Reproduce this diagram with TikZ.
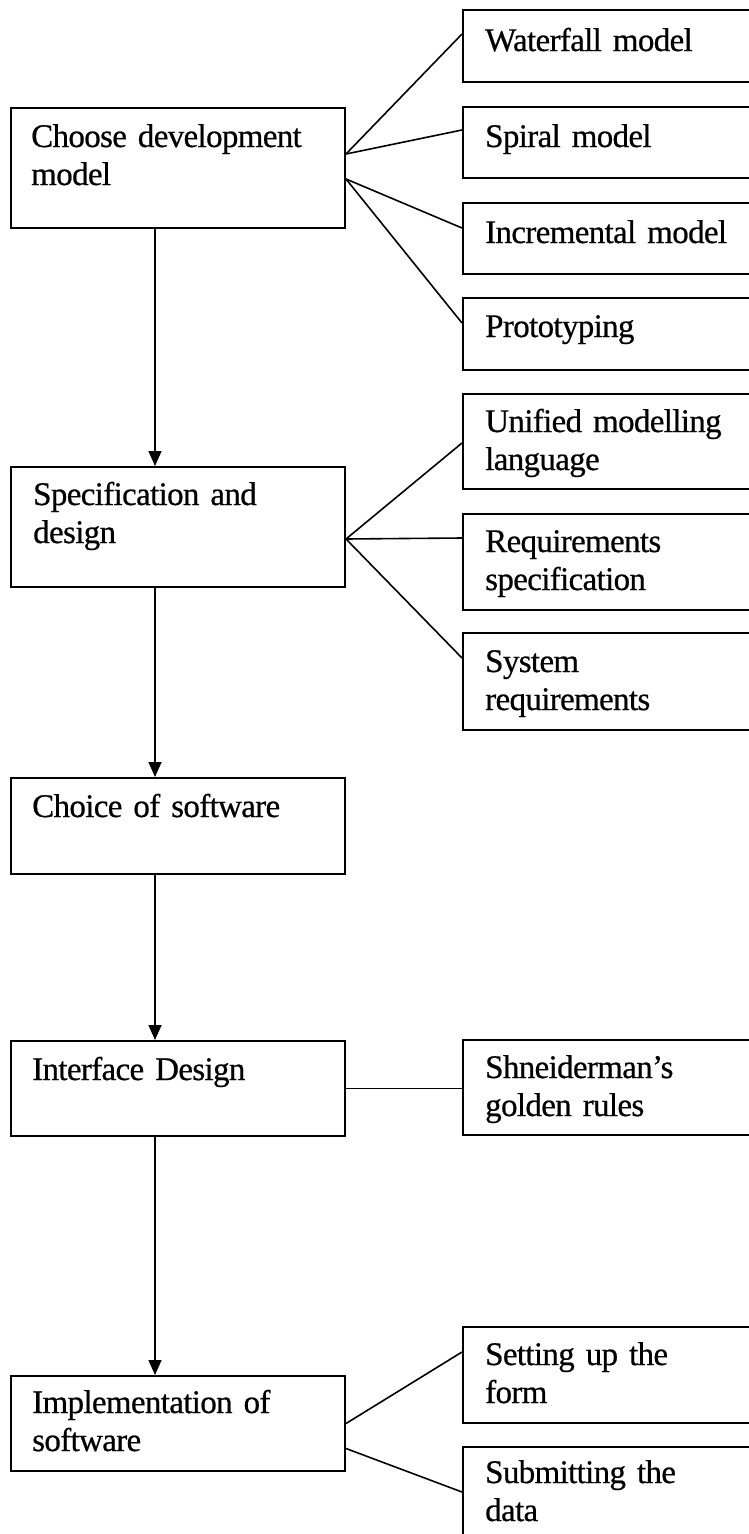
\documentclass[tikz,border=0pt]{standalone}
\usepackage{fontspec}
\setmainfont{Liberation Serif}[FakeBold=0.6, WordSpace=0.75, LetterSpace=-2]
\usetikzlibrary{arrows.meta}
\begin{document}
\begin{tikzpicture}[x=1pt,y=-1pt,
  box/.style={draw, line width=2pt, inner sep=0pt, anchor=north west},
  lbox/.style={box, minimum width=334pt},
  rbox/.style={box, minimum width=290pt},
  lbl/.style={anchor=base west, inner sep=0pt, text width=300pt, align=left,
    font=\fontsize{33pt}{38pt}\selectfont},
  link/.style={line width=1.6pt},
  arr/.style={line width=1.6pt, -{Triangle[length=15pt,width=13pt]}}]
\useasboundingbox (0,0) rectangle (749,1534);
\clip (0,0) rectangle (749,1534);
% left column
\node[lbox, minimum height=120pt] (choose) at (10,107) {};
\node[lbox, minimum height=120pt] (spec) at (10,466) {};
\node[lbox, minimum height=96pt] (choice) at (10,777) {};
\node[lbox, minimum height=95pt] (iface) at (10,1040) {};
\node[lbox, minimum height=95pt] (impl) at (10,1375) {};
% right column
\node[rbox, minimum height=72pt] (water) at (462,9) {};
\node[rbox, minimum height=71pt] (spiral) at (462,106) {};
\node[rbox, minimum height=71pt] (incr) at (462,202) {};
\node[rbox, minimum height=72pt] (proto) at (462,297) {};
\node[rbox, minimum height=95pt] (uml) at (462,393) {};
\node[rbox, minimum height=96pt] (req) at (462,513) {};
\node[rbox, minimum height=97pt] (sys) at (462,632) {};
\node[rbox, minimum height=95pt] (shn) at (462,1039) {};
\node[rbox, minimum height=96pt] (set) at (462,1326) {};
\node[rbox, minimum height=110pt] (sub) at (462,1446) {};
% labels
\node[lbl] (chooseT) at ([xshift=21pt,yshift=-40pt]choose.north west) {Choose development\\model};
\node[lbl] (specT) at ([xshift=23pt,yshift=-39pt]spec.north west) {Specification and\\design};
\node[lbl] (choiceT) at ([xshift=22pt,yshift=-40pt]choice.north west) {Choice of software};
\node[lbl] (ifaceT) at ([xshift=22pt,yshift=-40pt]iface.north west) {Interface Design};
\node[lbl] (implT) at ([xshift=22pt,yshift=-38pt]impl.north west) {Implementation of\\software};
\node[lbl] (waterT) at ([xshift=23pt,yshift=-42pt]water.north west) {Waterfall model};
\node[lbl] (spiralT) at ([xshift=23pt,yshift=-41pt]spiral.north west) {Spiral model};
\node[lbl] (incrT) at ([xshift=23pt,yshift=-41pt]incr.north west) {Incremental model};
\node[lbl] (protoT) at ([xshift=23pt,yshift=-40pt]proto.north west) {Prototyping};
\node[lbl] (umlT) at ([xshift=23pt,yshift=-39pt]uml.north west) {Unified modelling\\language};
\node[lbl] (reqT) at ([xshift=23pt,yshift=-39pt]req.north west) {Requirements\\specification};
\node[lbl] (sysT) at ([xshift=23pt,yshift=-40pt]sys.north west) {System\\requirements};
\node[lbl] (shnT) at ([xshift=23pt,yshift=-39pt]shn.north west) {Shneiderman’s\\golden rules};
\node[lbl] (setT) at ([xshift=23pt,yshift=-39pt]set.north west) {Setting up the\\form};
\node[lbl] (subT) at ([xshift=23pt,yshift=-37pt]sub.north west) {Submitting the\\data};
% branch links
\draw[link] ([yshift=14pt]choose.east) -- ([yshift=12pt]water.west);
\draw[link] ([yshift=14pt]choose.east) -- ([yshift=12.5pt]spiral.west);
\draw[link] ([yshift=-11pt]choose.east) -- ([yshift=10.5pt]incr.west);
\draw[link] ([yshift=-11pt]choose.east) -- ([yshift=11pt]proto.west);
\draw[link] ([yshift=-12pt]spec.east) -- ([yshift=-1.5pt]uml.west);
\draw[link] ([yshift=-12pt]spec.east) -- ([yshift=24pt]req.west);
\draw[link] ([yshift=-12pt]spec.east) -- ([yshift=23.5pt]sys.west);
\draw[link] (iface.east) -- (iface.east -| shn.west);
\draw[link] (impl.east) -- ([yshift=23pt]set.west);
\draw[link] ([yshift=-25pt]impl.east) -- ([yshift=-46pt]sub.north west);
% main flow
\draw[arr] ([xshift=-23pt]choose.south) -- ([xshift=-23pt]spec.north);
\draw[arr] ([xshift=-23pt]spec.south) -- ([xshift=-23pt]choice.north);
\draw[arr] ([xshift=-23pt]choice.south) -- ([xshift=-23pt]iface.north);
\draw[arr] ([xshift=-23pt]iface.south) -- ([xshift=-23pt]impl.north);
\end{tikzpicture}
\end{document}
